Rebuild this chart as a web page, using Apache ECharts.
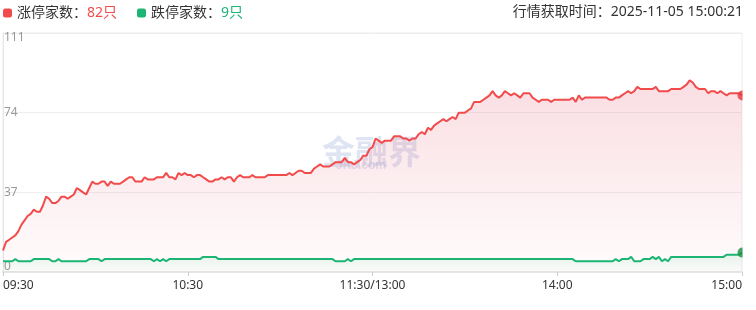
<!DOCTYPE html>
<html><head><meta charset="utf-8">
<script src="https://cdn.jsdelivr.net/npm/echarts@6/dist/echarts.min.js"></script>
<style>html,body{margin:0;padding:0;background:#fff}#c{width:756px;height:310px}</style>
</head><body><div id="c"></div>
<script>
// ---- data ----
const limitUpName = '涨停家数';
const limitDownName = '跌停家数';
const fetchTime = '行情获取时间：2025-11-05 15:00:21';
const yTicks = [0, 37, 74, 111];
const xTickLabels = ['09:30', '10:30', '11:30/13:00', '14:00', '15:00'];

// minute categories 09:30-11:30, 13:01-15:00
const times = [];
(function () {
  function pad(n) { return (n < 10 ? '0' : '') + n; }
  for (let m = 9 * 60 + 30; m <= 11 * 60 + 30; m++) times.push(pad(Math.floor(m / 60)) + ':' + pad(m % 60));
  for (let m = 13 * 60 + 1; m <= 15 * 60; m++) times.push(pad(Math.floor(m / 60)) + ':' + pad(m % 60));
})();

const limitUp = [
  10,14,15,16,17,19,22,24,26,27, 29,28,28,31,35,34,32,32,33,35,
  35,34,35,36,39,38,37,36,39,42, 41,41,42,42,40,42,41,41,41,42,
  43,44,44,42,42,42,44,43,43,43, 44,44,44,46,44,44,43,46,45,46,
  45,45,44,45,45,44,43,42,42,43, 43,44,43,44,44,42,44,45,44,44,
  44,45,44,44,44,44,45,45,45,45, 45,45,45,46,45,46,47,47,46,46,
  46,48,49,50,49,49,49,50,51,51, 51,53,51,51,50,51,52,54,54,57,
  58,62,61,60,61,61,61,63,63,63, 62,62,61,62,62,64,65,64,67,66,
  68,69,70,71,70,71,72,71,74,74, 74,75,76,79,79,79,80,81,82,84,
  82,81,82,84,83,82,83,82,81,83, 83,83,81,80,79,80,80,80,79,80,
  80,80,80,80,80,81,79,82,80,81, 81,81,81,81,81,81,81,80,80,81,
  81,82,83,84,83,84,86,85,85,85, 85,85,86,84,84,84,84,85,85,85,
  85,86,87,89,88,86,85,85,85,83, 84,84,83,84,83,82,83,83,83,83,
  82
];
const limitDown = [
  5,5,5,5,6,5,5,5,5,5, 6,6,6,6,6,6,5,5,6,5,
  5,5,5,5,5,5,5,5,6,6, 6,6,5,6,6,6,6,6,6,6,
  6,6,6,6,6,6,6,6,6,5, 6,5,6,5,6,6,6,6,6,6,
  6,6,6,6,6,7,7,7,7,7, 6,6,6,6,6,6,6,6,6,6,
  6,6,6,6,6,6,6,6,6,6, 6,6,6,6,6,6,6,6,6,6,
  6,6,6,6,6,6,6,6,5,5, 5,5,6,5,6,6,6,6,6,6,
  6,6,6,6,6,6,6,6,6,6, 6,6,6,6,6,6,6,6,6,6,
  6,6,6,6,6,6,6,6,6,6, 6,6,6,6,6,6,6,6,6,6,
  6,6,6,6,6,6,6,6,6,6, 6,6,6,6,6,6,6,6,6,6,
  6,6,6,6,6,6,5,5,5,5, 5,5,5,5,5,5,5,5,5,6,
  5,6,6,6,7,5,5,5,6,6, 6,7,6,7,5,6,5,7,7,7,
  7,7,7,7,7,7,7,7,7,7, 7,7,7,7,7,8,8,8,8,8,
  9
];

// ---- chart ----
const RED = '#f24b4b';
const GREEN = '#1db574';
const FONT = '"Noto Sans", "Noto Sans CJK SC", sans-serif';
const lastIdx = times.length - 1;
const upLast = limitUp[limitUp.length - 1];
const downLast = limitDown[limitDown.length - 1];
const showIdx = [0, 60, 120, 180, 240];
const HALF_DOT = 'path://M10,0 A10,10 0 0,0 10,20 Z';

const chart = echarts.init(document.getElementById('c'), null, { renderer: 'canvas' });
chart.setOption({
  animation: false,
  textStyle: { fontFamily: FONT },
  title: {
    text: fetchTime, right: 13, top: 5, padding: 0,
    textStyle: { fontSize: 14, fontWeight: 'normal', color: '#333', fontFamily: FONT }
  },
  legend: {
    data: [limitUpName, limitDownName],
    left: 3, top: 6, padding: 0, itemGap: 20,
    icon: 'roundRect', itemWidth: 9, itemHeight: 9,
    textStyle: {
      fontSize: 14, color: '#333', fontFamily: FONT,
      rich: {
        r: { color: RED, fontSize: 14, fontFamily: FONT },
        g: { color: GREEN, fontSize: 14, fontFamily: FONT }
      }
    },
    formatter: function (name) {
      return name === limitUpName ? name + '：{r|' + upLast + '只}' : name + '：{g|' + downLast + '只}';
    }
  },
  graphic: [
    { type: 'text', left: 322, top: 135, z: 0, silent: true,
      style: { text: '金融界', fontSize: 33, fontWeight: 'bold', fill: 'rgba(185,196,228,0.45)', fontFamily: '"Noto Sans CJK SC"' } },
    { type: 'text', left: 336, top: 160, z: 0, silent: true,
      style: { text: 'JRJ.com', fontSize: 12, fontWeight: 'bold', fill: 'rgba(185,196,228,0.45)', fontFamily: 'Arial' } }
  ],
  grid: { left: 3, right: 14, top: 33, bottom: 38, show: true, borderColor: '#ececec', borderWidth: 1, containLabel: false },
  xAxis: {
    type: 'category', data: times, boundaryGap: false,
    axisLine: { lineStyle: { color: '#e6e6e6', width: 2 } },
    axisTick: { show: true, length: 4, lineStyle: { color: '#ccc' },
      interval: function (i) { return showIdx.indexOf(i) >= 0; } },
    axisLabel: {
      color: '#333', fontSize: 12, margin: 8, fontFamily: FONT,
      interval: function (i) { return showIdx.indexOf(i) >= 0; },
      formatter: function (v, i) { const k = showIdx.indexOf(i); return k >= 0 ? xTickLabels[k] : ''; },
      alignMinLabel: 'left', alignMaxLabel: 'right'
    },
    splitLine: { show: false }
  },
  yAxis: {
    type: 'value', min: yTicks[0], max: yTicks[yTicks.length - 1], interval: 37,
    axisLine: { show: true, lineStyle: { color: '#e6e6e6' } },
    axisTick: { show: false },
    splitLine: { lineStyle: { color: '#eeeeee' } },
    axisLabel: {
      inside: true, margin: 1, color: '#999', fontSize: 12, fontFamily: FONT,
      showMinLabel: true, showMaxLabel: true,
      formatter: function (v) {
        if (v === yTicks[yTicks.length - 1]) return '{t|' + v + '}';
        if (v === yTicks[0]) return '{b|' + v + '}';
        return '{m|' + v + '}';
      },
      rich: {
        t: { padding: [10, 0, 0, 0], color: '#999', fontSize: 12 },
        b: { padding: [0, 0, 11, 0], color: '#999', fontSize: 12 },
        m: { color: '#999', fontSize: 12 }
      }
    }
  },
  series: [
    {
      name: limitUpName, type: 'line', data: limitUp, showSymbol: false, symbol: 'none',
      lineStyle: { color: RED, width: 2 }, itemStyle: { color: RED }, z: 3,
      areaStyle: { color: new echarts.graphic.LinearGradient(0, 0, 0, 1, [
        { offset: 0, color: 'rgba(232,110,130,0.33)' },
        { offset: 1, color: 'rgba(232,110,130,0.03)' }]) }
    },
    {
      name: limitDownName, type: 'line', data: limitDown, showSymbol: false, symbol: 'none',
      lineStyle: { color: GREEN, width: 2 }, itemStyle: { color: GREEN }, z: 4,
      areaStyle: { color: new echarts.graphic.LinearGradient(0, 0, 0, 1, [
        { offset: 0, color: 'rgba(40,180,110,0.16)' },
        { offset: 1, color: 'rgba(40,180,110,0.02)' }]) }
    },
    {
      name: 'upEnd', type: 'scatter', z: 5, symbol: HALF_DOT, symbolSize: [5, 10], symbolOffset: [-2, 0],
      itemStyle: { color: '#e8363a' }, data: [[times[lastIdx], upLast]]
    },
    {
      name: 'downEnd', type: 'scatter', z: 5, symbol: HALF_DOT, symbolSize: [5, 10], symbolOffset: [-2, 0],
      itemStyle: { color: '#17903f' }, data: [[times[lastIdx], downLast]]
    }
  ]
});
</script></body></html>
